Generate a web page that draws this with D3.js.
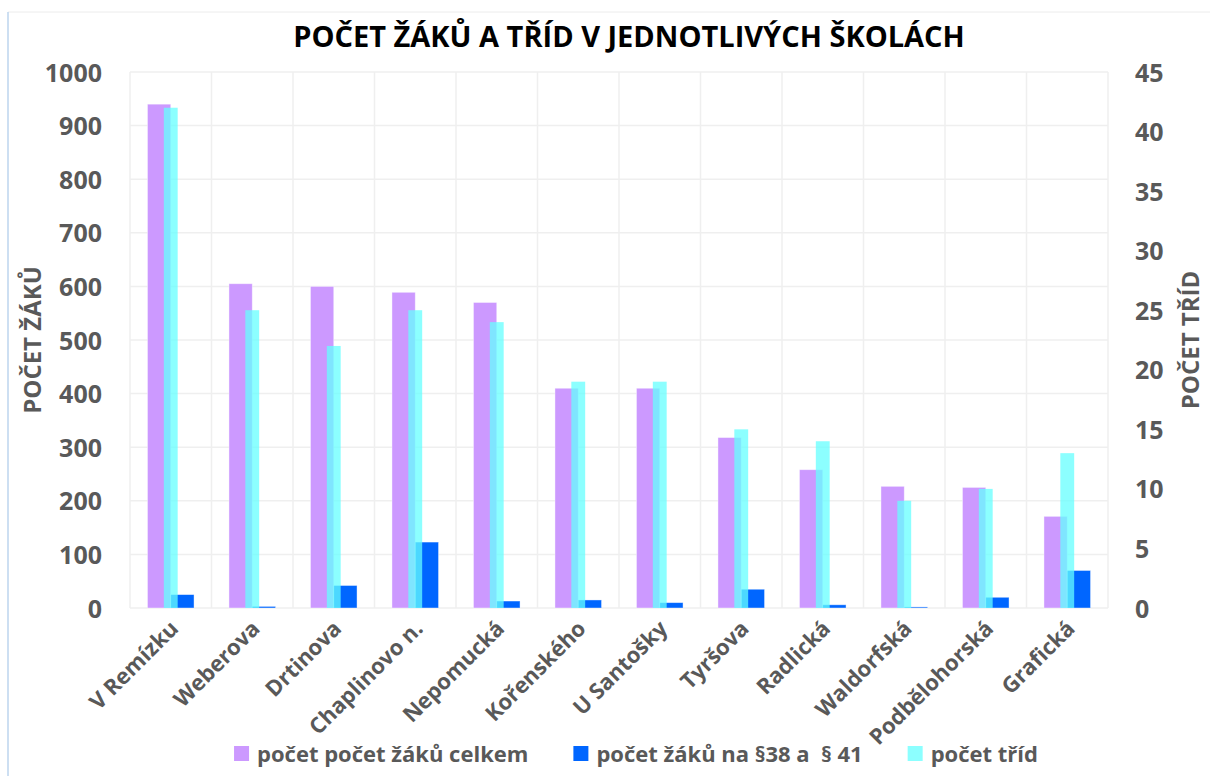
<!DOCTYPE html>
<html>
<head>
<meta charset="utf-8">
<script src="https://cdn.jsdelivr.net/npm/d3@7"></script>
<style>
  body { margin: 0; background: #fff; }
  svg text { font-family: "Open Sans", "DejaVu Sans", sans-serif; font-weight: 700; }
</style>
</head>
<body>
<div id="chart"></div>
<script>
// skoly a hodnoty
const categories = ["V Remízku", "Weberova", "Drtinova", "Chaplinovo n.", "Nepomucká", "Kořenského",
                    "U Santošky", "Tyršova", "Radlická", "Waldorfská", "Podbělohorská", "Grafická"];
const totalPupils = [940, 605, 600, 589, 570, 410, 410, 318, 258, 227, 225, 171];
const specialPupils = [25, 3, 42, 123, 13, 15, 10, 35, 6, 2, 20, 70];
const classCounts = [42, 25, 22, 25, 24, 19, 19, 15, 14, 9, 10, 13];

const leftTicks = [0, 100, 200, 300, 400, 500, 600, 700, 800, 900, 1000];
const rightTicks = [0, 5, 10, 15, 20, 25, 30, 35, 40, 45];

const seriesNames = ["počet počet žáků celkem", "počet žáků na §38 a  § 41", "počet tříd"];
const seriesColors = ["#cc99ff", "#0066ff", "#66ffff"];

const width = 1210, height = 776;
const margin = {top: 72, right: 102, bottom: 168, left: 130};

const svg = d3.select("#chart").append("svg")
    .attr("width", width)
    .attr("height", height);

// ramecek grafu
svg.append("line").attr("x1", 8).attr("x2", width).attr("y1", 12).attr("y2", 12)
    .attr("stroke", "#ececec").attr("stroke-width", 1);
svg.append("line").attr("x1", 8).attr("x2", 8).attr("y1", 12).attr("y2", height)
    .attr("stroke", "#bcd4ee").attr("stroke-width", 1.5);

const x = d3.scaleBand()
    .domain(categories)
    .range([margin.left, width - margin.right])
    .padding(0);

const yLeft = d3.scaleLinear().domain([0, 1000]).range([height - margin.bottom, margin.top]);
const yRight = d3.scaleLinear().domain([0, 45]).range([height - margin.bottom, margin.top]);

const bw = x.bandwidth() / 3.5;      // gap width 150 %
const cw = x.bandwidth() * 0.17;     // sekundarni osa - uzsi sloupce

// mrizka
const grid = svg.append("g");
grid.selectAll(".hgrid")
    .data(leftTicks)
    .join("line")
    .attr("x1", margin.left).attr("x2", width - margin.right)
    .attr("y1", d => yLeft(d)).attr("y2", d => yLeft(d))
    .attr("stroke", "#efefef").attr("stroke-width", 1.5);
grid.selectAll(".vgrid")
    .data(categories.concat(["__end"]))
    .join("line")
    .attr("x1", (d, i) => margin.left + i * x.step())
    .attr("x2", (d, i) => margin.left + i * x.step())
    .attr("y1", yLeft(1000)).attr("y2", yLeft(0))
    .attr("stroke", "#efefef").attr("stroke-width", 1.5);

// sloupce - primarni osa
svg.append("g").selectAll("rect")
    .data(totalPupils)
    .join("rect")
    .attr("x", (d, i) => x(categories[i]) + 0.75 * bw)
    .attr("y", d => yLeft(d))
    .attr("width", bw)
    .attr("height", d => yLeft(0) - yLeft(d))
    .attr("fill", seriesColors[0])
    .attr("stroke", "rgba(255,255,255,0.5)").attr("stroke-width", 0.8);

svg.append("g").selectAll("rect")
    .data(specialPupils)
    .join("rect")
    .attr("x", (d, i) => x(categories[i]) + 1.75 * bw)
    .attr("y", d => yLeft(d))
    .attr("width", bw)
    .attr("height", d => yLeft(0) - yLeft(d))
    .attr("fill", seriesColors[1])
    .attr("stroke", "rgba(255,255,255,0.5)").attr("stroke-width", 0.8);

// sloupce - sekundarni osa (pruhledne, nahore)
svg.append("g").selectAll("rect")
    .data(classCounts)
    .join("rect")
    .attr("x", (d, i) => x(categories[i]) + x.bandwidth() / 2 - cw / 2)
    .attr("y", d => yRight(d))
    .attr("width", cw)
    .attr("height", d => yRight(0) - yRight(d))
    .attr("fill", seriesColors[2])
    .attr("fill-opacity", 0.75);

// osy
const axisLeft = svg.append("g")
    .attr("transform", `translate(${margin.left - 28},0)`)
    .call(d3.axisLeft(yLeft).tickValues(leftTicks).tickFormat(d3.format("d")).tickSize(0).tickPadding(0));
const axisRight = svg.append("g")
    .attr("transform", `translate(${width - margin.right + 27},0)`)
    .call(d3.axisRight(yRight).tickValues(rightTicks).tickFormat(d3.format("d")).tickSize(0).tickPadding(0));
[axisLeft, axisRight].forEach(a => {
    a.select(".domain").remove();
    a.selectAll("text")
        .attr("fill", "#595959")
        .style("font-size", "25px")
        .attr("dy", "0.36em");
});

const axisBottom = svg.append("g")
    .attr("transform", `translate(0,${yLeft(0)})`)
    .call(d3.axisBottom(x).tickSize(0).tickPadding(0));
axisBottom.select(".domain").remove();
axisBottom.selectAll("text")
    .attr("fill", "#595959")
    .style("font-size", "22px")
    .attr("text-anchor", "end")
    .attr("dy", null)
    .attr("y", 0)
    .attr("transform", "translate(9,22) rotate(-45)");

// nadpisy os
svg.append("text")
    .attr("transform", `translate(41,${(yLeft(0) + yLeft(1000)) / 2}) rotate(-90)`)
    .attr("text-anchor", "middle")
    .attr("fill", "#595959")
    .style("font-size", "24px")
    .text("POČET ŽÁKŮ");
svg.append("text")
    .attr("transform", `translate(1199,${(yLeft(0) + yLeft(1000)) / 2}) rotate(-90)`)
    .attr("text-anchor", "middle")
    .attr("fill", "#595959")
    .style("font-size", "24px")
    .text("POČET TŘÍD");

// titulek
svg.append("text")
    .attr("x", 629).attr("y", 47)
    .attr("text-anchor", "middle")
    .attr("fill", "#000")
    .style("font-size", "29px")
    .text("POČET ŽÁKŮ A TŘÍD V JEDNOTLIVÝCH ŠKOLÁCH");

// legenda
const legend = svg.append("g");
const items = legend.selectAll("g")
    .data(seriesNames)
    .join("g");
items.append("rect")
    .attr("width", 15).attr("height", 15)
    .attr("y", 746)
    .attr("fill", (d, i) => seriesColors[i])
    .attr("fill-opacity", (d, i) => i === 2 ? 0.75 : 1);
items.append("text")
    .attr("x", 23).attr("y", 762)
    .attr("fill", "#595959")
    .style("font-size", "22px")
    .style("white-space", "pre")
    .text(d => d);

let widths = [];
items.each(function () { widths.push(this.querySelector("text").getComputedTextLength() + 23); });
const gap = 45;
const total = d3.sum(widths) + gap * (widths.length - 1);
let lx = 636 - total / 2;
items.attr("transform", (d, i) => {
    const t = `translate(${lx},0)`;
    lx += widths[i] + gap;
    return t;
});
</script>
</body>
</html>
